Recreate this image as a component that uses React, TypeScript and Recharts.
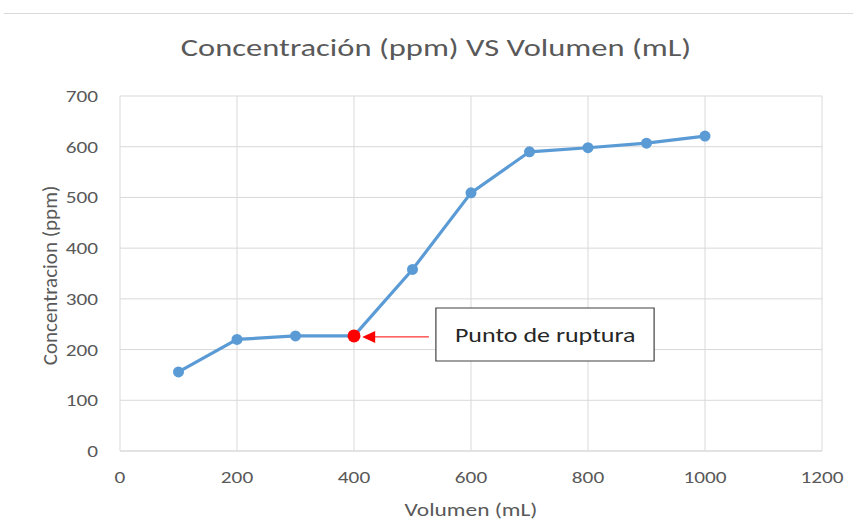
import React from "react";
import { CartesianGrid, LineChart, Line, ReferenceArea, ReferenceLine, XAxis, YAxis } from "recharts";

const volumes = [100, 200, 300, 400, 500, 600, 700, 800, 900, 1000];
const concentrations = [156, 220, 227, 227, 358, 509, 590, 598, 607, 621];
const xTicks = [0, 200, 400, 600, 800, 1000, 1200];
const yTicks = [0, 100, 200, 300, 400, 500, 600, 700];
const breakIndex = 3;

const data = volumes.map((v, i) => ({ v, c: concentrations[i] }));

const FONT = "Carlito, 'Open Sans', sans-serif";
const GREY = "#595959";
const STRETCH = 1.25;

const renderDot = (props: any) => {
  const { cx, cy, index } = props;
  if (index === breakIndex) {
    return <circle key={index} cx={cx} cy={cy} r={6.5} fill="#ff0000" />;
  }
  return <circle key={index} cx={cx} cy={cy} r={5.5} fill="#5b9bd5" />;
};

const ArrowShape = (props: any) => {
  const { x1, y1, x2, y2 } = props;
  const tip = Math.min(x1, x2);
  const tail = Math.max(x1, x2);
  const y = y1 ?? y2;
  return (
    <g>
      <line x1={tail} y1={y} x2={tip + 12} y2={y} stroke="#ff0000" strokeWidth={1} />
      <polygon points={`${tip},${y} ${tip + 13},${y - 6} ${tip + 13},${y + 6}`} fill="#ff0000" />
    </g>
  );
};

const XTick = (props: any) => {
  const { x, y, payload } = props;
  return (
    <g transform={`translate(${x},${y})`}>
      <text transform={`scale(${STRETCH},1)`} textAnchor="middle" dy="0.71em" fill={GREY} fontSize={17} fontFamily={FONT}>
        {payload.value}
      </text>
    </g>
  );
};

const YTick = (props: any) => {
  const { x, y, payload } = props;
  return (
    <g transform={`translate(${x},${y})`}>
      <text transform={`scale(${STRETCH},1)`} textAnchor="end" dy="0.355em" fill={GREY} fontSize={17} fontFamily={FONT}>
        {payload.value}
      </text>
    </g>
  );
};

const XLabel = (props: any) => {
  const { viewBox } = props;
  const cx = viewBox.x + viewBox.width / 2;
  return (
    <g transform={`translate(${cx},516)`}>
      <text transform="scale(1.3,1)" textAnchor="middle" fill={GREY} fontSize={18} fontFamily={FONT}>
        Volumen (mL)
      </text>
    </g>
  );
};

const YLabel = (props: any) => {
  const { viewBox } = props;
  const cy = viewBox.y + viewBox.height / 2 + 2;
  return (
    <g transform={`translate(57,${cy}) rotate(-90)`}>
      <text textAnchor="middle" fill={GREY} fontSize={21} fontFamily={FONT}>
        Concentracion (ppm)
      </text>
    </g>
  );
};

const BoxLabel = (props: any) => {
  const { viewBox } = props;
  const x = viewBox.x + 19;
  const y = viewBox.y + viewBox.height / 2;
  return (
    <g transform={`translate(${x},${y})`}>
      <text transform="scale(1.3,1)" dy="0.355em" fill="#262626" fontSize={20} fontFamily={FONT}>
        Punto de ruptura
      </text>
    </g>
  );
};

export default function App() {
  return (
    <div style={{ position: "absolute", left: 0, top: 0, width: 853, height: 521, background: "#fff", fontFamily: FONT }}>
      <div style={{ position: "absolute", left: 4, top: 13, width: 849, borderTop: "1px solid #d9d9d9" }} />
      <div
        style={{
          position: "absolute",
          left: 0,
          top: 32,
          width: 872,
          textAlign: "center",
          fontSize: 25,
          color: GREY,
          transform: "scale(1.3,1)",
          transformOrigin: "436px 0",
        }}
      >
        Concentración (ppm) VS Volumen (mL)
      </div>
      <LineChart width={853} height={521} data={data} margin={{ top: 96, right: 31, bottom: 30, left: 30 }}>
        <CartesianGrid stroke="#d9d9d9" strokeWidth={1} />
        <XAxis
          dataKey="v"
          type="number"
          domain={[0, 1200]}
          ticks={xTicks}
          tickLine={false}
          axisLine={{ stroke: "#d9d9d9" }}
          tick={<XTick />}
          tickMargin={14}
          height={40}
          label={<XLabel />}
        />
        <YAxis
          type="number"
          domain={[0, 700]}
          ticks={yTicks}
          tickLine={false}
          axisLine={false}
          tick={<YTick />}
          tickMargin={16}
          width={90}
          label={<YLabel />}
        />
        <ReferenceArea
          x1={540}
          x2={913}
          y1={177.5}
          y2={282}
          fill="#ffffff"
          fillOpacity={1}
          stroke="#404040"
          strokeWidth={1.2}
          label={<BoxLabel />}
        />
        <ReferenceLine segment={[{ x: 414, y: 225 }, { x: 528, y: 225 }]} shape={ArrowShape} />
        <Line
          dataKey="c"
          stroke="#5b9bd5"
          strokeWidth={3.2}
          dot={renderDot}
          activeDot={false}
          isAnimationActive={false}
        />
      </LineChart>
    </div>
  );
}
